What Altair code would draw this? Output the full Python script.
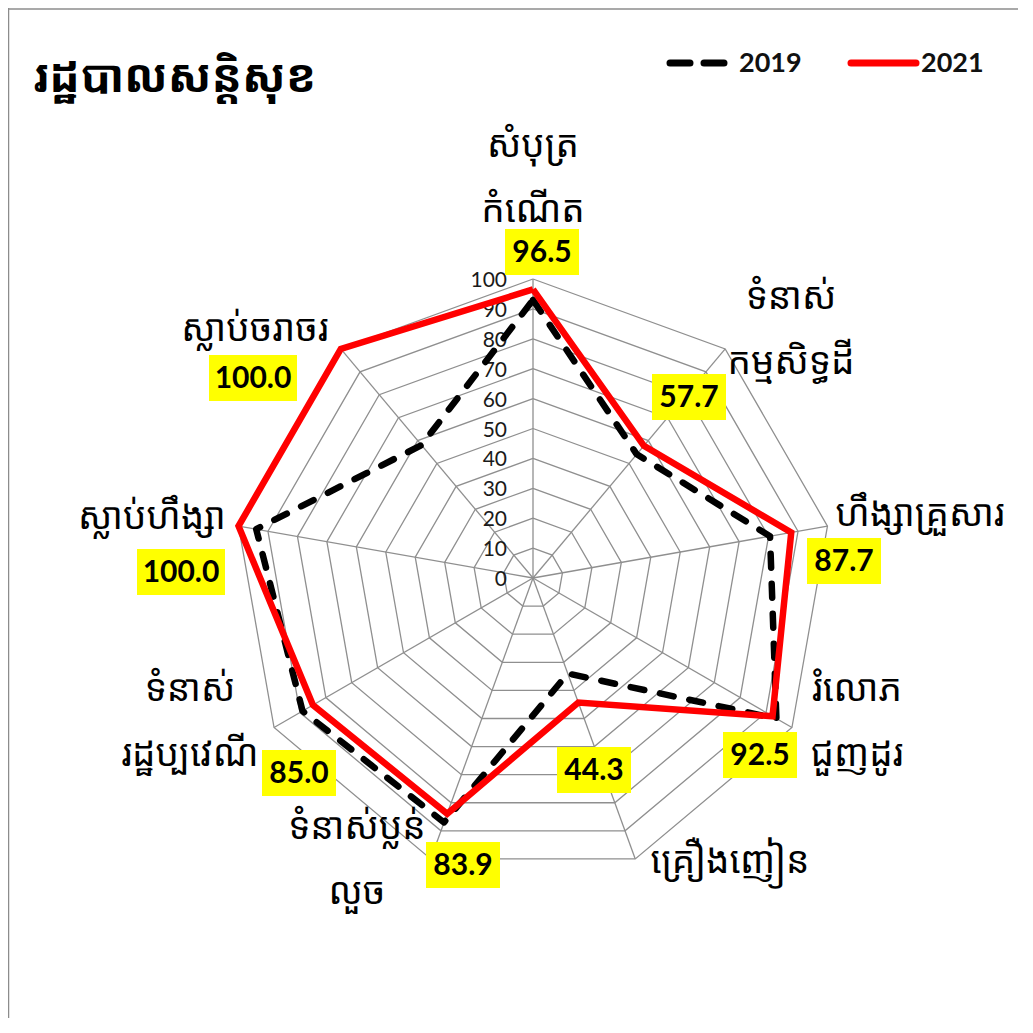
import altair as alt
import pandas as pd

# ---------------- data ----------------
title_text = "រដ្ឋបាលសន្តិសុខ"
categories = [
    "សំបុត្រ\nកំណើត",
    "ទំនាស់\nកម្មសិទ្ធដី",
    "ហឹង្សាគ្រួសារ",
    "រំលោភ\nជួញដូរ",
    "គ្រឿងញៀន",
    "ទំនាស់ប្លន់\nលួច",
    "ទំនាស់\nរដ្ឋប្បវេណី",
    "ស្លាប់ហឹង្សា",
    "ស្លាប់ចរាចរ",
]
series_names = ["2019", "2021"]
values_2019 = [93.0, 54.0, 80.5, 94.0, 34.0, 87.0, 89.0, 94.0, 58.0]
values_2021 = [96.5, 57.7, 87.7, 92.5, 44.3, 83.9, 85.0, 100.0, 100.0]
tick_values = [0, 10, 20, 30, 40, 50, 60, 70, 80, 90, 100]

# ---------------- layout (page pixels) ----------------
CX, CY, PX = 533.0, 578.0, 2.99     # centre of radar, px per value unit
W = H = 1010
x_dom = [(8 - CX) / PX, (8 + W - CX) / PX]
y_dom = [(CY - (8 + H)) / PX, (CY - 8) / PX]

def ux(px):
    return (px - CX) / PX

def uy(py):
    return (CY - py) / PX

# first-line centre of each category label
cat_label_px = [(533, 146), (791, 298), (920, 515), (857, 690), (730, 862),
                (357, 828), (190, 690), (152, 518), (255, 330)]
val_label_px = [(542, 252), (689, 397), (844, 561), (760, 755), (594, 770),
                (463, 865), (299, 773), (181, 572), (253, 378)]

n = len(categories)
ANG = "2 * PI / %d" % n
xs = alt.Scale(domain=x_dom, nice=False, zero=False)
ys = alt.Scale(domain=y_dom, nice=False, zero=False)

KH = "Noto Sans Khmer, Khmer OS, Khmer OS System, Leelawadee UI, sans-serif"
NUM = "Lato, Open Sans, sans-serif"

def X(f):
    return alt.X(f, type="quantitative", scale=xs, axis=None)

def Y(f):
    return alt.Y(f, type="quantitative", scale=ys, axis=None)

# ---------------- grid ----------------
ring_rows = []
for lvl in tick_values[1:]:
    for k in range(n + 1):
        ring_rows.append({"level": lvl, "i": k % n, "ord": k})
rings = alt.Chart(pd.DataFrame(ring_rows)).transform_calculate(
    px=f"datum.level * sin(datum.i * {ANG})",
    py=f"datum.level * cos(datum.i * {ANG})",
).mark_line(color="#8f8f8f", strokeWidth=1.3).encode(
    x=X("px:Q"), y=Y("py:Q"), detail="level:N", order="ord:Q"
)

spoke_rows = [{"i": i, "r": tick_values[-1]} for i in range(n)]
spokes = alt.Chart(pd.DataFrame(spoke_rows)).transform_calculate(
    px=f"datum.r * sin(datum.i * {ANG})",
    py=f"datum.r * cos(datum.i * {ANG})",
    zx="0", zy="0",
).mark_rule(color="#8f8f8f", strokeWidth=1.3).encode(
    x=X("zx:Q"), y=Y("zy:Q"), x2="px:Q", y2="py:Q"
)

ticks = alt.Chart(pd.DataFrame({"t": tick_values})).transform_calculate(
    px="0", lab="'' + datum.t"
).mark_text(align="right", baseline="middle", dx=-26, dy=2, fontSize=21,
            font=NUM, color="#1a1a1a").encode(
    x=X("px:Q"), y=Y("t:Q"), text="lab:N"
)

# ---------------- series ----------------
ser_rows = []
for name, vals in zip(series_names, [values_2019, values_2021]):
    for k in range(n + 1):
        ser_rows.append({"series": name, "i": k % n, "ord": k, "v": vals[k % n]})
ser_df = pd.DataFrame(ser_rows)

def series_layer(name, color, dash, cap, join):
    kw = dict(color=color, strokeWidth=6.5, strokeCap=cap, strokeJoin=join)
    if dash:
        kw["strokeDash"] = dash
    return alt.Chart(ser_df).transform_filter(
        alt.datum.series == name
    ).transform_calculate(
        px=f"datum.v * sin(datum.i * {ANG})",
        py=f"datum.v * cos(datum.i * {ANG})",
    ).mark_line(**kw).encode(x=X("px:Q"), y=Y("py:Q"), order="ord:Q")

line19 = series_layer("2019", "#000000", [14, 16], "round", "round")
line21 = series_layer("2021", "#ff0000", None, "butt", "miter")

# ---------------- value labels ----------------
vl_rows = []
for v, (px, py) in zip(values_2021, val_label_px):
    txt = f"{v:.1f}"
    bw = 74 if len(txt) <= 4 else 88
    vl_rows.append({"txt": txt, "cx": ux(px), "cy": uy(py),
                    "x1": ux(px - bw / 2), "x2": ux(px + bw / 2),
                    "y1": uy(py - 23), "y2": uy(py + 23)})
vl_df = pd.DataFrame(vl_rows)
vboxes = alt.Chart(vl_df).mark_rect(color="#ffff00").encode(
    x=X("x1:Q"), x2="x2:Q", y=Y("y1:Q"), y2="y2:Q"
)
vtext = alt.Chart(vl_df).mark_text(fontSize=30, fontWeight="bold", font=NUM,
                                   color="#000", baseline="middle", dy=1).encode(
    x=X("cx:Q"), y=Y("cy:Q"), text="txt:N"
)

# ---------------- category labels ----------------
cl_df = pd.DataFrame({
    "lab": categories,
    "cx": [ux(p[0]) for p in cat_label_px],
    "cy": [uy(p[1]) for p in cat_label_px],
})
ctext = alt.Chart(cl_df).mark_text(fontSize=37, font=KH, color="#000",
                                   lineBreak="\n", lineHeight=65,
                                   baseline="middle").encode(
    x=X("cx:Q"), y=Y("cy:Q"), text="lab:N"
)

# ---------------- title, legend, frame ----------------
one = pd.DataFrame({"a": [0]})
title = alt.Chart(one).mark_text(text=title_text, fontSize=45, fontWeight="bold",
                                 font=KH, align="left", baseline="middle",
                                 color="#000").encode(x=alt.value(25), y=alt.value(70))

leg19_line = alt.Chart(one).mark_rule(color="#000", strokeWidth=7, strokeCap="round",
                                      strokeDash=[20, 14]).encode(
    x=alt.value(662), x2=alt.value(722), y=alt.value(55))
leg21_line = alt.Chart(one).mark_rule(color="#ff0000", strokeWidth=7, strokeCap="round").encode(
    x=alt.value(843), x2=alt.value(908), y=alt.value(55))
leg19_txt = alt.Chart(one).mark_text(text="2019", fontSize=27, fontWeight="bold", font=NUM,
                                     align="left", baseline="middle", color="#111").encode(
    x=alt.value(731), y=alt.value(56))
leg21_txt = alt.Chart(one).mark_text(text="2021", fontSize=27, fontWeight="bold", font=NUM,
                                     align="left", baseline="middle", color="#111").encode(
    x=alt.value(913), y=alt.value(56))

frame_left = alt.Chart(one).mark_rule(color="#8c8c8c", strokeWidth=1.5).encode(
    x=alt.value(0.5), y=alt.value(0), y2=alt.value(H))
frame_top = alt.Chart(one).mark_rule(color="#8c8c8c", strokeWidth=1.5).encode(
    x=alt.value(0), x2=alt.value(W), y=alt.value(1))

chart = alt.layer(
    rings, spokes, ticks, line19, line21, vboxes, vtext, ctext,
    title, leg19_line, leg21_line, leg19_txt, leg21_txt, frame_left, frame_top,
).properties(
    width=W, height=H, padding=0, autosize=alt.AutoSizeParams(type="none"),
    background="white",
).configure_view(stroke=None)

chart.save("out.html", embed_options={"renderer": "svg", "actions": False})
